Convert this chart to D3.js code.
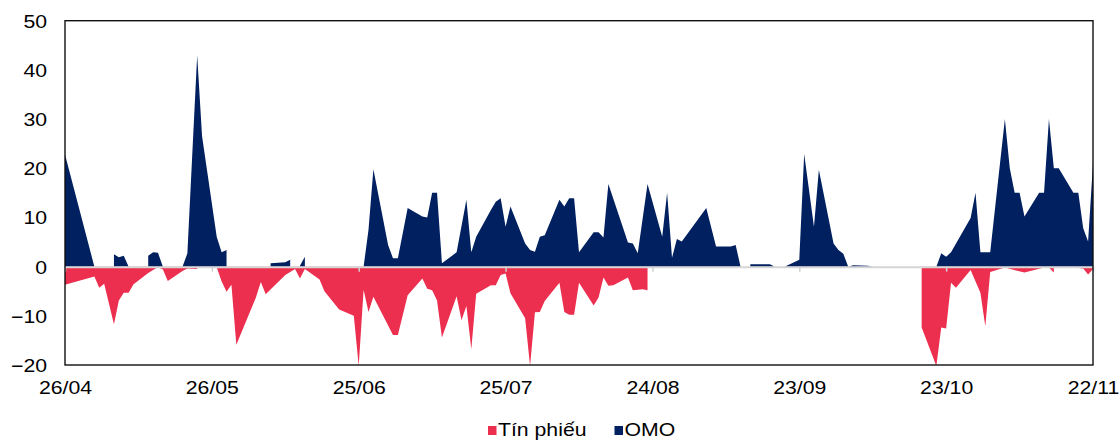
<!DOCTYPE html>
<html>
<head>
<meta charset="utf-8">
<script src="https://cdn.jsdelivr.net/npm/d3@7"></script>
<style>
  body { margin: 0; background: #fff; }
  svg { display: block; }
  text { font-family: "Liberation Sans", Arial, sans-serif; font-size: 18px; fill: #000; }
</style>
</head>
<body>
<svg id="chart" width="1119" height="441"></svg>
<script>
// OMO balance (positive), trading days; null marks a break in the area
const omoDates = ["2024-04-26","2024-05-02","2024-05-03","2024-05-06","2024-05-07","2024-05-08","2024-05-09","2024-05-10","2024-05-13","2024-05-14","2024-05-15","2024-05-16","2024-05-20","2024-05-21","2024-05-23","2024-05-24","2024-05-27","2024-05-28","2024-05-29","2024-05-30","2024-06-07","2024-06-10","2024-06-11","2024-06-12","2024-06-13","2024-06-14","2024-06-17","2024-06-26","2024-06-27","2024-06-28","2024-07-01","2024-07-02","2024-07-03","2024-07-05","2024-07-08","2024-07-09","2024-07-10","2024-07-11","2024-07-12","2024-07-15","2024-07-17","2024-07-18","2024-07-19","2024-07-22","2024-07-23","2024-07-24","2024-07-25","2024-07-26","2024-07-29","2024-07-30","2024-07-31","2024-08-01","2024-08-02","2024-08-05","2024-08-06","2024-08-07","2024-08-08","2024-08-09","2024-08-12","2024-08-13","2024-08-14","2024-08-15","2024-08-19","2024-08-20","2024-08-21","2024-08-23","2024-08-26","2024-08-27","2024-08-28","2024-08-29","2024-08-30","2024-09-04","2024-09-06","2024-09-09","2024-09-10","2024-09-11","2024-09-12","2024-09-13","2024-09-17","2024-09-18","2024-09-20","2024-09-23","2024-09-24","2024-09-26","2024-09-27","2024-09-30","2024-10-01","2024-10-02","2024-10-03","2024-10-04","2024-10-07","2024-10-08","2024-10-21","2024-10-22","2024-10-23","2024-10-24","2024-10-28","2024-10-29","2024-10-30","2024-11-01","2024-11-04","2024-11-05","2024-11-06","2024-11-07","2024-11-08","2024-11-11","2024-11-12","2024-11-13","2024-11-14","2024-11-15","2024-11-18","2024-11-19","2024-11-20","2024-11-21","2024-11-22"];
const omoValues = [22.8,0,null,2.5,1.9,2.2,0,null,2.2,2.9,2.8,0,0,2.7,43,26.5,6.0,2.9,3.4,null,0.7,0.9,1.4,null,0.2,2.0,null,0,7.5,19.8,4.4,1.7,1.7,11.9,10.2,10.0,15,15,0.7,2.9,13.6,2.9,6.1,11.5,13.2,13.9,8.1,12.2,4.7,3.4,3.0,6.1,6.4,13.6,12.2,13.9,13.9,2.9,7.0,7.0,5.9,16.8,4.9,4.7,2.7,16.8,6.1,15,1.8,5.6,5.1,11.9,4.1,4.1,4.4,0,null,0.5,0.5,0,0,1.4,22.9,8.1,19.7,4.7,3.4,2.6,0,0.3,0.2,0,0,2.7,2.0,2.9,9.9,15,2.9,2.9,30,20,15,15,10.2,15,15,30,20,20,15,15,7.8,5.1,21];

// Tín phiếu (bills issued, shown as negative)
const billDates = ["2024-04-26","2024-05-02","2024-05-03","2024-05-04","2024-05-06","2024-05-07","2024-05-08","2024-05-09","2024-05-10","2024-05-13","2024-05-15","2024-05-16","2024-05-17","2024-05-20","2024-05-21","2024-05-23","2024-05-24","2024-05-27","2024-05-28","2024-05-29","2024-05-30","2024-05-31","2024-06-04","2024-06-05","2024-06-06","2024-06-10","2024-06-12","2024-06-13","2024-06-14","2024-06-17","2024-06-18","2024-06-21","2024-06-24","2024-06-25","2024-06-26","2024-06-27","2024-06-28","2024-07-02","2024-07-03","2024-07-05","2024-07-08","2024-07-09","2024-07-10","2024-07-11","2024-07-12","2024-07-15","2024-07-16","2024-07-17","2024-07-18","2024-07-19","2024-07-22","2024-07-23","2024-07-24","2024-07-25","2024-07-26","2024-07-29","2024-07-30","2024-07-31","2024-08-01","2024-08-02","2024-08-05","2024-08-06","2024-08-07","2024-08-08","2024-08-09","2024-08-12","2024-08-13","2024-08-14","2024-08-15","2024-08-16","2024-08-19","2024-08-20","2024-08-22","2024-08-23","2024-08-26","2024-10-18","2024-10-21","2024-10-22","2024-10-23","2024-10-24","2024-10-25","2024-10-28","2024-10-30","2024-10-31","2024-11-01","2024-11-04","2024-11-08","2024-11-12","2024-11-13","2024-11-14","2024-11-15","2024-11-18","2024-11-20","2024-11-21","2024-11-22"];
const billValues = [-3.7,-2.0,-4.3,-3.5,-11.7,-6.9,-5.3,-5.3,-3.6,-1.3,-0.1,-0.6,-2.9,-0.9,-0.4,-0.5,null,-0.2,-3.0,-5.1,-3.7,-15.9,-6.3,-3.1,-5.6,-1.7,-0.5,-2.4,-0.5,-2.6,-5.0,-8.7,-10.0,-20.2,-4.7,-9.2,-6.1,-13.9,-13.9,-5.8,-2.4,-4.5,-4.8,-6.9,-14.4,-6.0,-10.9,-8.0,-16.8,-5.5,-3.8,-3.8,-1.7,-1.4,-5.4,-10.5,-20.2,-9.3,-9.2,-7.0,-3.3,-9.2,-9.8,-9.8,-3.3,-7.9,-6.3,-2.2,-3.9,-3.8,-2.2,-4.8,-4.6,-4.8,null,-12.4,-20.2,-12.4,-12.6,-3.3,-4.3,-0.7,-5.3,-12.1,-1.1,-0.2,-1.2,-0.2,-0.2,-1.2,null,-0.2,-0.4,-1.6,-0.5];

const xTickLabels = ["26/04","26/05","25/06","25/07","24/08","23/09","23/10","22/11"];
const yTickValues = [50,40,30,20,10,0,-10,-20];
const seriesNames = ["Tín phiếu","OMO"];
const seriesColors = ["#EC2E4F","#002060"];

const svg = d3.select("#chart");
const plot = { left: 65, right: 1093, top: 20.7, bottom: 365 };
const stretch = 1.18;

const parseDay = d3.timeParse("%Y-%m-%d");
const parseTick = d3.timeParse("%d/%m/%Y");
const tickDates = xTickLabels.map(s => parseTick(s + "/2024"));

const x = d3.scaleTime()
  .domain([tickDates[0], tickDates[tickDates.length - 1]])
  .range([plot.left, plot.right]);
const y = d3.scaleLinear().domain([-20, 50]).range([plot.bottom, plot.top]);

svg.append("defs").append("clipPath").attr("id", "plotClip")
  .append("rect")
  .attr("x", plot.left).attr("y", plot.top)
  .attr("width", plot.right - plot.left).attr("height", plot.bottom - plot.top);

function series(dates, values) {
  return dates.map((d, i) => ({ date: parseDay(d), value: values[i] }));
}

const area = d3.area()
  .defined(d => d.value !== null)
  .x(d => x(d.date))
  .y0(y(0))
  .y1(d => y(d.value));

const areas = svg.append("g").attr("clip-path", "url(#plotClip)");
areas.append("path")
  .datum(series(billDates, billValues))
  .attr("fill", seriesColors[0])
  .attr("d", area);
areas.append("path")
  .datum(series(omoDates, omoValues))
  .attr("fill", seriesColors[1])
  .attr("d", area);

// horizontal axis on the zero line, labels at the bottom
const xAxis = svg.append("g")
  .attr("transform", `translate(0,${y(0)})`)
  .call(d3.axisBottom(x).tickValues(tickDates).tickFormat((d, i) => xTickLabels[i])
    .tickSizeInner(5).tickSizeOuter(0));
xAxis.select(".domain").attr("stroke", "#d6d6d6").attr("stroke-width", 2);
xAxis.selectAll(".tick line").attr("stroke", "#d0d0d0").attr("stroke-width", 1.5);
xAxis.selectAll(".tick text")
  .attr("y", null).attr("dy", null)
  .attr("transform", `translate(0,${394 - y(0)}) scale(${stretch},1)`)
  .attr("font-size", null).attr("font-family", null).attr("fill", "#000")
  .attr("text-anchor", "middle");

// vertical axis labels
const yAxis = svg.append("g")
  .attr("transform", `translate(${plot.left},0)`)
  .call(d3.axisLeft(y).tickValues(yTickValues).tickFormat(d3.format("d")).tickSize(0));
yAxis.select(".domain").remove();
yAxis.selectAll(".tick text")
  .attr("x", null).attr("dy", null)
  .attr("transform", `translate(-18,6.4) scale(${stretch},1)`)
  .attr("font-size", null).attr("font-family", null).attr("fill", "#000")
  .attr("text-anchor", "end");

// plot frame
svg.append("rect")
  .attr("x", plot.left).attr("y", plot.top)
  .attr("width", plot.right - plot.left).attr("height", plot.bottom - plot.top)
  .attr("fill", "none").attr("stroke", "#111").attr("stroke-width", 1.4);

// legend
const legend = svg.append("g").attr("transform", "translate(488,436)");
let lx = 0;
seriesNames.forEach((name, i) => {
  const item = legend.append("g").attr("transform", `translate(${lx},0)`);
  item.append("rect").attr("x", 0).attr("y", -10).attr("width", 8.5).attr("height", 9)
    .attr("fill", seriesColors[i]);
  const t = item.append("text")
    .attr("transform", `translate(10,0) scale(${stretch},1)`)
    .text(name);
  lx += 10 + t.node().getComputedTextLength() * stretch + 28;
});
</script>
</body>
</html>
